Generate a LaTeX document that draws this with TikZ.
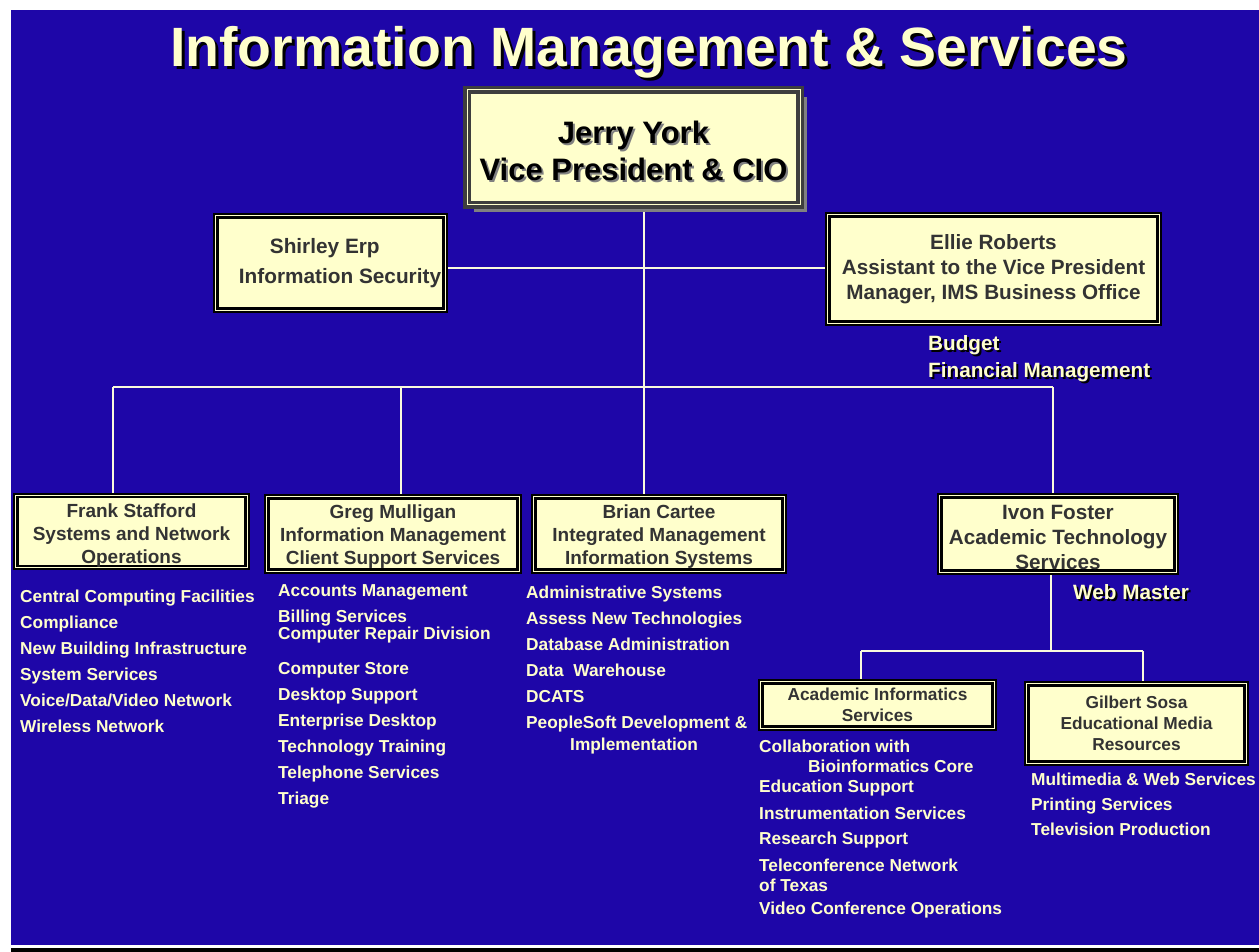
\documentclass[tikz,border=0pt]{standalone}
\usepackage{fontspec}
\setmainfont{Liberation Sans}
\usetikzlibrary{shadows}
\definecolor{slideblue}{RGB}{30,6,168}
\definecolor{cream}{RGB}{255,255,204}
\definecolor{wirecream}{RGB}{250,250,220}
\definecolor{boxtext}{RGB}{51,51,51}
\definecolor{framegray}{RGB}{62,62,62}
\newcommand{\fsz}[2]{\fontsize{#1}{#2}\selectfont}
\newcommand{\shad}[3]{\leavevmode\rlap{\kern#1\raisebox{-#1}{\textcolor{#2}{#3}}}#3}
\newcommand{\padtop}[1]{\rule{0pt}{#1}}
\pgfdeclarelayer{slide}
\pgfdeclarelayer{wires}
\pgfsetlayers{slide,wires,main}
\tikzset{
	boxnode/.style = {
		rectangle,
		align=center,
		inner sep=0pt,
		text=boxtext,
		fill=cream
	},
	node_vp/.style = {
		boxnode,
		text=black,
		draw=framegray,
		line width=3.5pt,
		double=cream,
		double distance=1pt,
		drop shadow={shadow xshift=7pt, shadow yshift=-7pt, fill=gray, opacity=1}
	},
	node_mgr/.style = {
		boxnode,
		draw=black,
		line width=2.4pt,
		double=cream,
		double distance=0.8pt
	},
	node_duty/.style = {
		align=left,
		inner sep=0pt,
		anchor=north west,
		text=cream,
		font=\bfseries\fsz{17.3}{26}
	},
	node_note/.style = {
		node_duty,
		font=\bfseries\fsz{20.7}{27}
	},
	wire/.style = {
		draw=wirecream,
		line width=2pt
	},
}
\begin{document}
\begin{tikzpicture}[x=1pt,y=-1pt]
\useasboundingbox (0,0) rectangle (1259,952);
\begin{pgfonlayer}{slide}
\fill[white] (0,0) rectangle (1259,952);
\fill[slideblue] (11,10) rectangle (1259,945);
\fill[black] (11,948) rectangle (1259,952);
\end{pgfonlayer}

% title
\node (title) [anchor=base, text=cream, font=\bfseries\fsz{55.4}{60}, inner sep=0pt]
	at (649,67) {\shad{3pt}{black}{Information Management \& Services}};

% vice president and staff
\node (jerry) [node_vp, minimum width=333, minimum height=115, font=\bfseries\fsz{31}{37}]
	at (633.5,147.5) {\padtop{31.6pt}\shad{2pt}{gray}{Jerry York}\\\shad{2pt}{gray}{Vice President \& CIO}};
\node (shirley) [node_mgr, minimum width=229.4, minimum height=94.4, align=left, font=\bfseries\fsz{20.8}{30}]
	at (330.5,263) {\hspace*{19pt}\hspace*{31pt}Shirley Erp\\\hspace*{19pt}Information Security};
\node (ellie) [node_mgr, minimum width=331.4, minimum height=108.4, font=\bfseries\fsz{20.7}{25}]
	at (993.5,269) {Ellie Roberts\\Assistant to the Vice President\\Manager, IMS Business Office};
\node (budget) [node_note] at (928,335) {\shad{2pt}{black}{Budget}\\\shad{2pt}{black}{Financial Management}};

% directors
\node (frank) [node_mgr, minimum width=231.4, minimum height=71.4, font=\bfseries\fsz{19}{23}]
	at (131.5,531.5) {\padtop{21.9pt}Frank Stafford\\Systems and Network\\Operations};
\node (greg) [node_mgr, minimum width=252.4, minimum height=74.4, font=\bfseries\fsz{19}{23}]
	at (393,534) {\padtop{19.9pt}Greg Mulligan\\Information Management\\Client Support Services};
\node (brian) [node_mgr, minimum width=250.4, minimum height=74.4, font=\bfseries\fsz{19}{23}]
	at (659,534) {\padtop{19.9pt}Brian Cartee\\Integrated Management\\Information Systems};
\node (ivon) [node_mgr, minimum width=236.4, minimum height=76.4, font=\bfseries\fsz{20.7}{25}]
	at (1058,534) {\padtop{21.1pt}Ivon Foster\\Academic Technology\\Services};
\node (webmaster) [node_note] at (1073,584) {\shad{2pt}{black}{Web Master}};

% academic technology units
\node (acad) [node_mgr, minimum width=233.4, minimum height=46.4, font=\bfseries\fsz{17.3}{21}]
	at (877.5,705) {Academic Informatics\\Services};
\node (gilbert) [node_mgr, minimum width=219.4, minimum height=79.4, font=\bfseries\fsz{17.3}{21}]
	at (1136.5,723.5) {Gilbert Sosa\\Educational Media\\Resources};

% duties
\node (frankduty) [node_duty] at (20,590) {Central Computing Facilities\\Compliance\\New Building Infrastructure\\System Services\\Voice/Data/Video Network\\Wireless Network};
\node (gregduty) [node_duty] at (278,584) {Accounts Management\\Billing Services\\[-9pt]Computer Repair Division\\[9pt]Computer Store\\Desktop Support\\Enterprise Desktop\\Technology Training\\Telephone Services\\Triage};
\node (brianduty) [node_duty] at (526,586) {Administrative Systems\\Assess New Technologies\\Database Administration\\Data\ \ Warehouse\\DCATS\\PeopleSoft Development \&\\[-4pt]\hspace*{44pt}Implementation};
\node (acadduty) [node_duty, font=\bfseries\fsz{17.3}{25}] at (759,740) {Collaboration with\\[-5pt]\hspace*{49pt}Bioinformatics Core\\[-5pt]Education Support\\[2pt]Instrumentation Services\\Research Support\\[2pt]Teleconference Network\\[-5pt]of Texas\\[-2pt]Video Conference Operations};
\node (gilbertduty) [node_duty, font=\bfseries\fsz{17.3}{25}] at (1031,773) {Multimedia \& Web Services\\Printing Services\\Television Production};

% connectors
\coordinate (staff) at (644,268);
\coordinate (hub) at (644,387);
\coordinate (busL) at (113,387);
\coordinate (busG) at (401,387);
\coordinate (busR) at (1053,387);
\coordinate (subhub) at (1051,651);
\coordinate (subL) at (861,651);
\coordinate (subR) at (1143,651);
\begin{pgfonlayer}{wires}
\draw[wire] (jerry.center -| hub) -- (hub);
\draw[wire] (shirley |- staff) -- (ellie |- staff);
\draw[wire] (busL) -- (busR);
\draw[wire] (busL) -- (busL |- frank.center);
\draw[wire] (busG) -- (busG |- greg.center);
\draw[wire] (hub) -- (hub |- brian.center);
\draw[wire] (busR) -- (busR |- ivon.center);
\draw[wire] (subhub |- ivon.center) -- (subhub);
\draw[wire] (subL) -- (subR);
\draw[wire] (subL) -- (subL |- acad.center);
\draw[wire] (subR) -- (subR |- gilbert.center);
\end{pgfonlayer}
\end{tikzpicture}
\end{document}
